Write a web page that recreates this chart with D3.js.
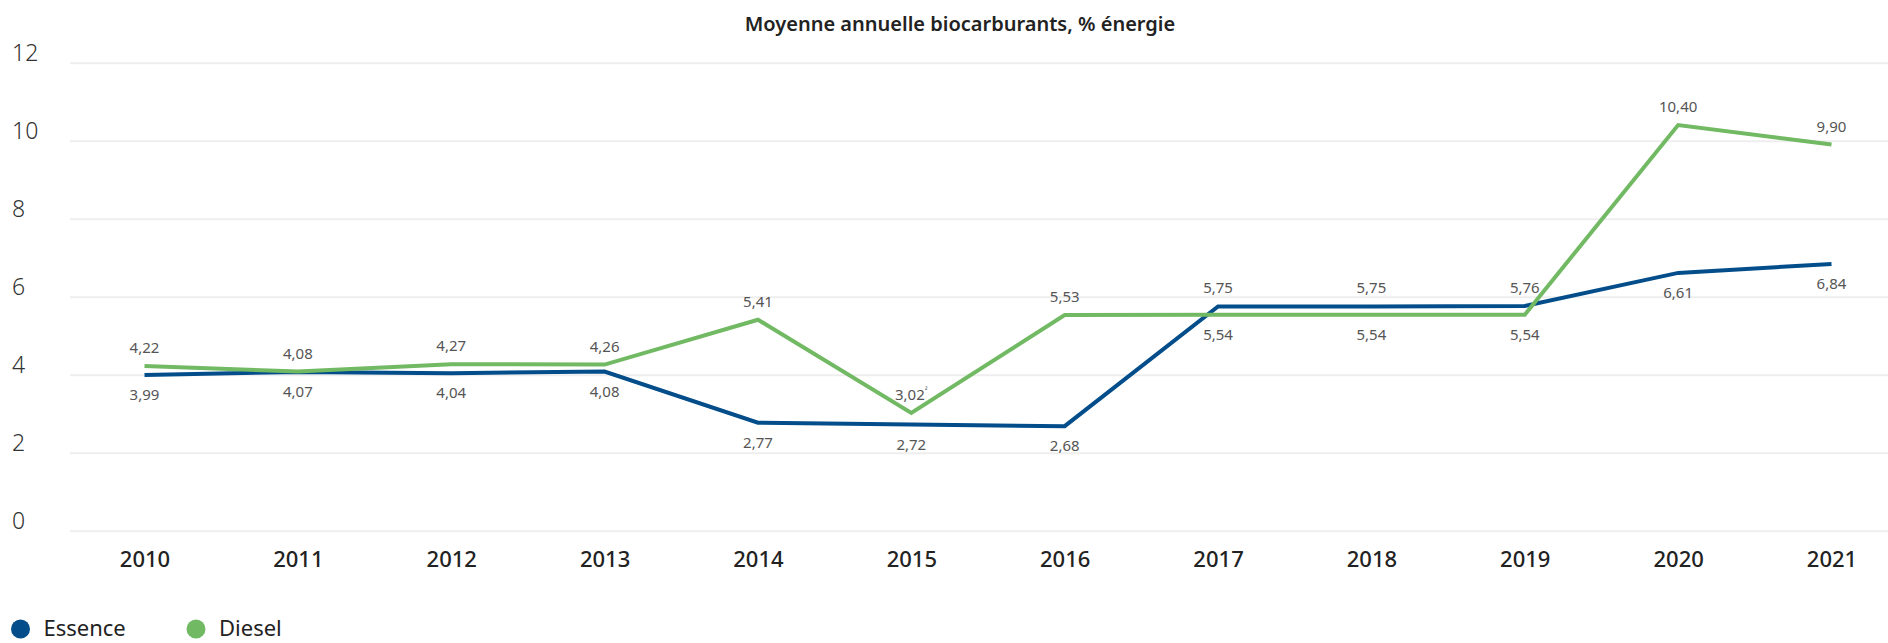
<!DOCTYPE html>
<html>
<head>
<meta charset="utf-8">
<script src="https://cdn.jsdelivr.net/npm/d3@7"></script>
<style>
  body { margin: 0; background: #fff; }
  svg { display: block; font-family: 'Noto Sans', sans-serif; }
</style>
</head>
<body>
<div id="chart"></div>
<script>
// Data
const years = ['2010', '2011', '2012', '2013', '2014', '2015', '2016', '2017', '2018', '2019', '2020', '2021'];
const essence = [3.99, 4.07, 4.04, 4.08, 2.77, 2.72, 2.68, 5.75, 5.75, 5.76, 6.61, 6.84];
const diesel = [4.22, 4.08, 4.27, 4.26, 5.41, 3.02, 5.53, 5.54, 5.54, 5.54, 10.4, 9.9];
const dieselNotes = ['', '', '', '', '', '²', '', '', '', '', '', ''];
const yTicks = [0, 2, 4, 6, 8, 10, 12];

const width = 1888;
const height = 643;

const series = [
  { name: 'Essence', values: essence, other: diesel, notes: [], color: '#034e8a' },
  { name: 'Diesel', values: diesel, other: essence, notes: dieselNotes, color: '#72b963' }
];

const svg = d3.select('#chart').append('svg')
  .attr('width', width)
  .attr('height', height);

// Title
svg.append('text')
  .attr('x', 960)
  .attr('y', 31)
  .attr('text-anchor', 'middle')
  .attr('font-size', 20)
  .attr('font-weight', 600)
  .attr('fill', '#222')
  .text('Moyenne annuelle biocarburants, % énergie');

// Scales
const x = d3.scalePoint().domain(years).range([144.5, 1831.5]);
const y = d3.scaleLinear().domain([0, 12]).range([530.7, 62.7]);

// Grid + y labels
const yAxis = d3.axisLeft(y).tickValues(yTicks).tickSize(-(width - 70)).tickFormat('');
svg.append('g')
  .attr('transform', 'translate(70,0)')
  .call(yAxis)
  .call((g) => g.select('.domain').remove())
  .call((g) => g.selectAll('line').attr('stroke', '#eeeeee').attr('stroke-width', 2));

svg.append('g')
  .selectAll('text')
  .data(yTicks)
  .enter()
  .append('text')
  .attr('x', 12)
  .attr('y', (d) => y(d) - 2)
  .attr('font-size', 23)
  .attr('font-weight', 300)
  .attr('fill', '#333')
  .text((d) => d);

// X axis
const xAxis = d3.axisBottom(x).tickSize(0).tickPadding(0);
svg.append('g')
  .attr('transform', 'translate(0,548)')
  .call(xAxis)
  .call((g) => g.select('.domain').remove())
  .call((g) => g.selectAll('text')
    .attr('font-family', "'Noto Sans', sans-serif")
    .attr('font-size', 22)
    .attr('font-weight', 500)
    .attr('fill', '#222')
    .attr('dy', 0)
    .attr('y', 19));

// Lines
const line = d3.line()
  .x((d, i) => x(years[i]))
  .y((d) => y(d));

series.forEach((s) => {
  svg.append('path')
    .datum(s.values)
    .attr('fill', 'none')
    .attr('stroke', s.color)
    .attr('stroke-width', 4)
    .attr('stroke-linejoin', 'miter')
    .attr('d', line);
});

// Value labels
const fmt = (v) => d3.format('.2f')(v).replace('.', ',');

series.forEach((s) => {
  const lbl = svg.append('g')
    .selectAll('text')
    .data(s.values)
    .enter()
    .append('text')
    .attr('x', (d, i) => x(years[i]))
    .attr('y', (d, i) => (d >= s.other[i] ? y(d) - 13 : y(d) + 25))
    .attr('text-anchor', 'middle')
    .attr('font-size', 15)
    .attr('fill', '#555');
  lbl.append('tspan').text((d) => fmt(d));
  lbl.append('tspan')
    .attr('font-size', 8)
    .attr('dy', -7)
    .text((d, i) => s.notes[i] || '');
});

// Legend
const legend = svg.append('g');
const legendX = [20.5, 196];
series.forEach((s, i) => {
  legend.append('circle')
    .attr('cx', legendX[i])
    .attr('cy', 629)
    .attr('r', 9.5)
    .attr('fill', s.color);
  legend.append('text')
    .attr('x', legendX[i] + 23)
    .attr('y', 636)
    .attr('font-size', 22)
    .attr('fill', '#222')
    .text(s.name);
});
</script>
</body>
</html>
